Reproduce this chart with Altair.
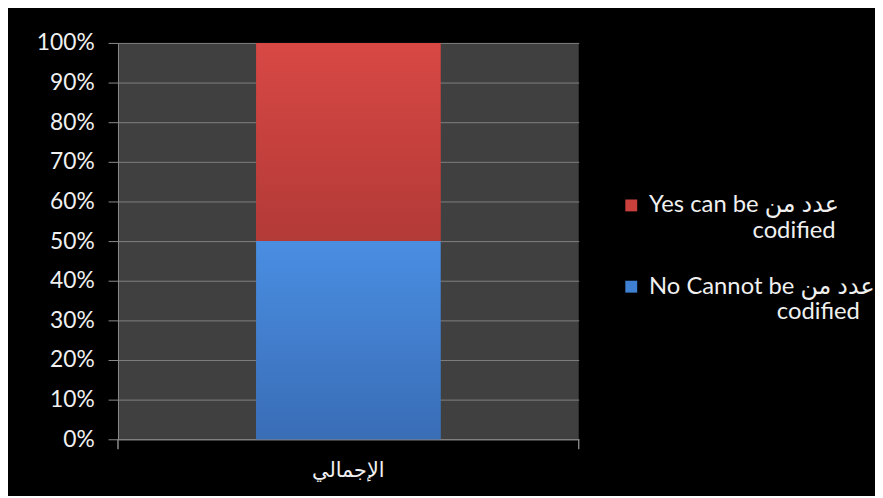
import altair as alt
import pandas as pd

categories = ["الإجمالي", "الإجمالي"]
series = ["Yes", "No"]
legend_labels = [
    "Yes can be  عدد من|" + "\u2060" + "\u00a0" * 17 + "codified",
    "No Cannot be  عدد من|" + "\u2060" + "\u00a0" * 21 + "codified",
]
values = [50, 50]
stack_order = [1, 0]
colors = ["#c9403d", "#3f80d2"]
y_ticks = [0, 0.1, 0.2, 0.3, 0.4, 0.5, 0.6, 0.7, 0.8, 0.9, 1.0]

df = pd.DataFrame({
    "cat": categories,
    "series": series,
    "label": legend_labels,
    "value": values,
    "order": stack_order,
})

FONT = "Lato, DejaVu Sans, sans-serif"

base = alt.Chart(df).transform_stack(
    stack="value", groupby=["cat"], as_=["y0", "y1"], offset="normalize",
    sort=[alt.SortField("order", "ascending")],
)

x_enc = alt.X("cat:N", scale=alt.Scale(paddingInner=0.6, paddingOuter=0.3),
              axis=alt.Axis(title=None, labelAngle=0, ticks=False, domain=True,
                            domainColor="#8c8c8c", labelPadding=21,
                            labelFontSize=21, labelColor="#f0f0f0", labelFont=FONT))
y_enc = alt.Y("y0:Q", scale=alt.Scale(domain=[0, 1], nice=False),
              axis=alt.Axis(title=None, format=".0%", values=y_ticks,
                            labelOverlap=False, tickCount=20,
                            labelFontSize=23, labelColor="#f0f0f0", labelFont=FONT,
                            tickColor="#8c8c8c", tickSize=10, domainColor="#8c8c8c",
                            gridColor="#808080", labelPadding=14))

bars = base.mark_bar().encode(
    x=x_enc, y=y_enc, y2="y1:Q",
    color=alt.Color("label:N",
                    scale=alt.Scale(domain=legend_labels, range=colors),
                    legend=alt.Legend(title=None, orient="none", legendX=506, legendY=152,
                                      symbolType="square", symbolSize=144,
                                      symbolStrokeWidth=0, labelOffset=6,
                                      labelFontSize=24, labelColor="#f0f0f0",
                                      labelFont=FONT, labelLimit=400, rowPadding=32,
                                      padding=0,
                                      labelExpr="split(datum.label, '|')")),
)

red_grad = alt.Gradient(gradient="linear", x1=0, x2=0, y1=0, y2=1,
                        stops=[alt.GradientStop(color="#d84844", offset=0),
                               alt.GradientStop(color="#b23a37", offset=1)])
blue_grad = alt.Gradient(gradient="linear", x1=0, x2=0, y1=0, y2=1,
                         stops=[alt.GradientStop(color="#4a8ee2", offset=0),
                                alt.GradientStop(color="#396db6", offset=1)])

red = base.transform_filter(alt.datum.series == "Yes").mark_bar(color=red_grad).encode(
    x=x_enc, y=y_enc, y2="y1:Q")
blue = base.transform_filter(alt.datum.series == "No").mark_bar(color=blue_grad).encode(
    x=x_enc, y=y_enc, y2="y1:Q")

tick_l = alt.Chart(df).mark_rule(color="#8c8c8c").encode(
    x=alt.value(0), y=alt.value(400), y2=alt.value(410))
tick_r = alt.Chart(df).mark_rule(color="#8c8c8c").encode(
    x=alt.value(465), y=alt.value(400), y2=alt.value(410))

chart = alt.layer(bars, red, blue, tick_l, tick_r).properties(
    width=465, height=400,
    autosize=alt.AutoSizeParams(type="none"),
    padding={"left": 111, "top": 33, "right": 299, "bottom": 55},
    background="#000000",
).configure_view(fill="#404040", stroke=None)

chart.save("out.html", embed_options={"renderer": "svg", "actions": False})
